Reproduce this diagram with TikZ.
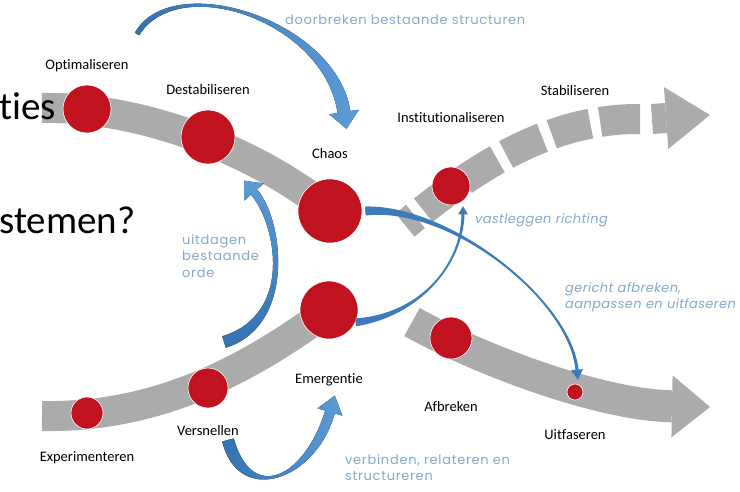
\documentclass[tikz,border=0pt]{standalone}
\usepackage{fontspec}
\setmainfont{Carlito}[Ligatures=NoCommon]
\newfontfamily\notefont{Poppins}[LetterSpace=5.5, ItalicFeatures={LetterSpace=3}]
\usetikzlibrary{calc,positioning,arrows.meta,backgrounds}

\definecolor{dotred}{HTML}{C1121F}
\definecolor{bandgray}{HTML}{ABABAB}
\definecolor{flowdark}{HTML}{3571B0}
\definecolor{flowlight}{HTML}{5C9BD6}
\definecolor{linkblue}{HTML}{3D7BBA}
\definecolor{notecol}{HTML}{84A9CE}

% tapered blue arrow: style, name, widths at tail/c1/c2/end, head half width, head length
\newcommand\bluearc[8][flow]{%
  \path ($(#2-t)!#3!90:(#2-a)$) coordinate (#2-tl)
        ($(#2-t)!#3!-90:(#2-a)$) coordinate (#2-tr)
        ($(#2-t)!#4!90:(#2-a)$) coordinate (#2-al)
        ($(#2-t)!#4!-90:(#2-a)$) coordinate (#2-ar)
        ($(#2-e)!#5!-90:(#2-b)$) coordinate (#2-bl)
        ($(#2-e)!#5!90:(#2-b)$) coordinate (#2-br)
        ($(#2-e)!#6!-90:(#2-b)$) coordinate (#2-el)
        ($(#2-e)!#6!90:(#2-b)$) coordinate (#2-er)
        ($(#2-e)!#7!-90:(#2-b)$) coordinate (#2-hl)
        ($(#2-e)!#7!90:(#2-b)$) coordinate (#2-hr)
        ($(#2-e)!-#8!(#2-b)$) coordinate (#2-tip);
  \fill[#1] (#2-tl) .. controls ($(#2-a)+(#2-al)-(#2-t)$) and ($(#2-b)+(#2-bl)-(#2-e)$) .. (#2-el)
    -- (#2-hl) -- (#2-tip) -- (#2-hr) -- (#2-er)
    .. controls ($(#2-b)+(#2-br)-(#2-e)$) and ($(#2-a)+(#2-ar)-(#2-t)$) .. (#2-tr) -- cycle;
}

\begin{document}
\begin{tikzpicture}[
  x=1pt, y=-1pt,
  dot/.style={circle, fill=dotred, draw=white, line width=0.6pt, inner sep=0pt},
  stage/.style={font=\fontsize{14.5}{16}\selectfont, inner sep=0pt, text height=10pt, text depth=3pt},
  note/.style={font=\notefont\fontsize{13}{16.5}\selectfont, text=notecol, inner sep=0pt, align=left},
  noteit/.style={note, font=\notefont\itshape\fontsize{13}{16}\selectfont},
  slide/.style={font=\fontsize{39}{44}\selectfont, inner sep=0pt, anchor=base west},
  band/.style={bandgray, line width=30pt},
  head/.style={-{Triangle[length=#1, width=62pt, line width=0pt]}},
  flow/.style={left color=flowdark, right color=flowlight},
  flowup/.style={bottom color=flowdark, top color=flowlight},
  link/.style={fill=linkblue}
]
\path[use as bounding box, clip] (0,0) rectangle (740,491);

\node[slide] (ties) at (-1,119) {ties};
\node[slide] (stemen) at (-1,233) {stemen?};

\node[dot, minimum size=48pt] (opt) at (87,109) {};
\node[dot, minimum size=54pt] (destab) at (208,137) {};
\node[dot, minimum size=64pt] (chaos) at (330,211) {};
\node[dot, minimum size=38pt] (inst) at (451,186) {};
\node[dot, minimum size=58pt] (emerg) at (329,310) {};
\node[dot, minimum size=40pt] (versn) at (208,388) {};
\node[dot, minimum size=32pt] (exper) at (87,413) {};
\node[dot, minimum size=42pt] (afbr) at (451,338) {};
\node[dot, minimum size=16pt] (uitf) at (575,392) {};

\node[stage, above=12.5pt of opt] {Optimaliseren};
\node[stage, above=12.5pt of destab] {Destabiliseren};
\node[stage, above=17.5pt of chaos] {Chaos};
\node[stage, above=41.5pt of inst] {Institutionaliseren};
\node[stage] (stab) at (575,92) {Stabiliseren};
\node[stage, below=33.5pt of emerg] {Emergentie};
\node[stage, below=16.5pt of versn] {Versnellen};
\node[stage, below=21.5pt of exper] {Experimenteren};
\node[stage, below=41.5pt of afbr] {Afbreken};
\node[stage, below=28.5pt of uitf] {Uitfaseren};

\coordinate (upstart) at (42,108);
\coordinate (lowstart) at (42,416);
\coordinate (downstart) at (412,322);
\coordinate (downtip) at (710,407);
\coordinate (dashend) at (640,119);
\coordinate (dashstart) at (405,225);
\coordinate (stabfoot) at (652,119);
\coordinate (stabtip) at (710,115);

\begin{scope}[on background layer]
\draw[band] (upstart) .. controls (140,106) and (255,150) .. (chaos.center);
\draw[band] (lowstart) .. controls (160,418) and (250,368) .. (emerg.center);
\draw[band, line width=32pt, head=38pt] (downstart) .. controls (480,360) and (600,405) .. (downtip);
\draw[band, dash pattern=on 40pt off 10pt] (dashend) .. controls (540,118) and (460,180) .. (dashstart);
\draw[band, head=44pt] (stabfoot) -- (stabtip);
\end{scope}

\coordinate (br-t) at (137,34);
\coordinate (br-a) at (175,-30);
\coordinate (br-b) at (330,20);
\coordinate (br-e) at (344,112);
\bluearc{br}{2.5pt}{4pt}{6pt}{6.5pt}{15pt}{17pt}

\coordinate (ud-t) at (224,342);
\coordinate (ud-a) at (295,320);
\coordinate (ud-b) at (280,222);
\coordinate (ud-e) at (254,192);
\bluearc[flowup]{ud}{6pt}{5.5pt}{4.5pt}{4pt}{13pt}{15pt}

\coordinate (vb-t) at (228,440);
\coordinate (vb-a) at (245,505);
\coordinate (vb-b) at (310,480);
\coordinate (vb-e) at (330,412);
\bluearc{vb}{6pt}{7pt}{6pt}{5pt}{13pt}{17pt}

\coordinate (gr-t) at ($(chaos.east)+(3pt,0pt)$);
\coordinate (gr-a) at (450,205);
\coordinate (gr-b) at (570,300);
\coordinate (gr-e) at ($(uitf.north)+(2pt,14pt)$);
\bluearc[link]{gr}{4.5pt}{0.9pt}{1pt}{1.6pt}{6pt}{10pt}

\coordinate (vl-t) at (emerg.-25);
\coordinate (vl-a) at (420,315);
\coordinate (vl-b) at (462,265);
\coordinate (vl-e) at ($(inst.south)+(12pt,-9pt)$);
\bluearc[link]{vl}{4pt}{0.8pt}{1pt}{1.5pt}{5pt}{8pt}

\node[note, anchor=west] (breaknote) at (285,20) {doorbreken bestaande structuren};
\node[noteit, anchor=west] (fixnote) at (475,220) {vastleggen richting};
\node[noteit, anchor=north west] (phasenote) at (565,282) {gericht afbreken,\\aanpassen en uitfaseren};
\node[note, anchor=north west] (ordernote) at (182,234) {uitdagen\\bestaande\\orde};
\node[note, anchor=north west] (linknote) at (345,454) {verbinden, relateren en\\structureren};
\end{tikzpicture}
\end{document}
